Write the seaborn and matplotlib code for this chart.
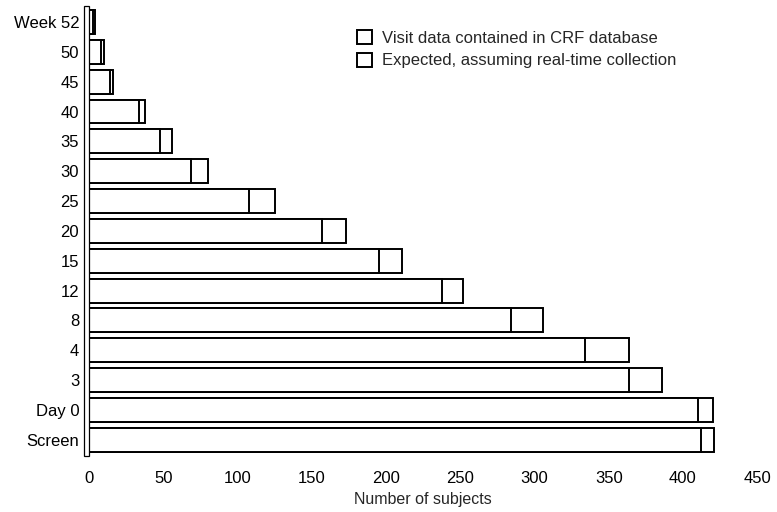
import pandas as pd
import seaborn as sns
import matplotlib.pyplot as plt
from matplotlib.patches import Rectangle, Patch

visits = ["Week 52", "50", "45", "40", "35", "30", "25", "20", "15", "12",
          "8", "4", "3", "Day 0", "Screen"]
in_database = [3, 8, 14, 34, 48, 69, 108, 157, 195, 238, 284, 334, 364, 410, 412]
expected = [4, 10, 16, 38, 56, 80, 125, 173, 211, 252, 306, 364, 386, 420, 421]

df = pd.DataFrame({"visit": visits, "in_database": in_database, "expected": expected})

sns.set_style("white")
plt.rcParams["font.family"] = ["Liberation Sans", "DejaVu Sans"]

fig = plt.figure(figsize=(7.77, 5.12), dpi=100)
ax = fig.add_axes([0.1145, 0.109, 0.86, 0.883])

bar_kw = dict(orient="h", order=visits, color="white", edgecolor="black",
              linewidth=1.4, width=0.8, saturation=1, ax=ax)
sns.barplot(data=df, x="expected", y="visit", **bar_kw)
sns.barplot(data=df, x="in_database", y="visit", **bar_kw)

ax.set_xlim(0, 450)
ax.set_ylim(len(visits) - 0.45, -0.6)
ax.set_xticks(range(0, 451, 50))
ax.set_xlabel("Number of subjects", fontsize=11.5, labelpad=4)
ax.set_ylabel("")
ax.tick_params(axis="both", length=0, labelsize=12, colors="black")
ax.tick_params(axis="y", pad=7)
ax.tick_params(axis="x", pad=11)
for s in ax.spines.values():
    s.set_visible(False)

# hollow box for the left axis
ax.add_patch(Rectangle((-3.4, len(visits) - 0.45), 3.2, -(len(visits) + 0.1),
                       facecolor="white", edgecolor="black", linewidth=0.9,
                       clip_on=False, zorder=5))

handles = [Patch(facecolor="white", edgecolor="black", linewidth=1.4),
           Patch(facecolor="white", edgecolor="black", linewidth=1.4)]
ax.legend(handles, ["Visit data contained in CRF database",
                    "Expected, assuming real-time collection"],
          loc="upper left", bbox_to_anchor=(0.378, 0.975), frameon=False,
          fontsize=12, handlelength=0.9, handleheight=0.9, handletextpad=0.6,
          labelspacing=0.4)

plt.savefig("out.png", dpi=100)
